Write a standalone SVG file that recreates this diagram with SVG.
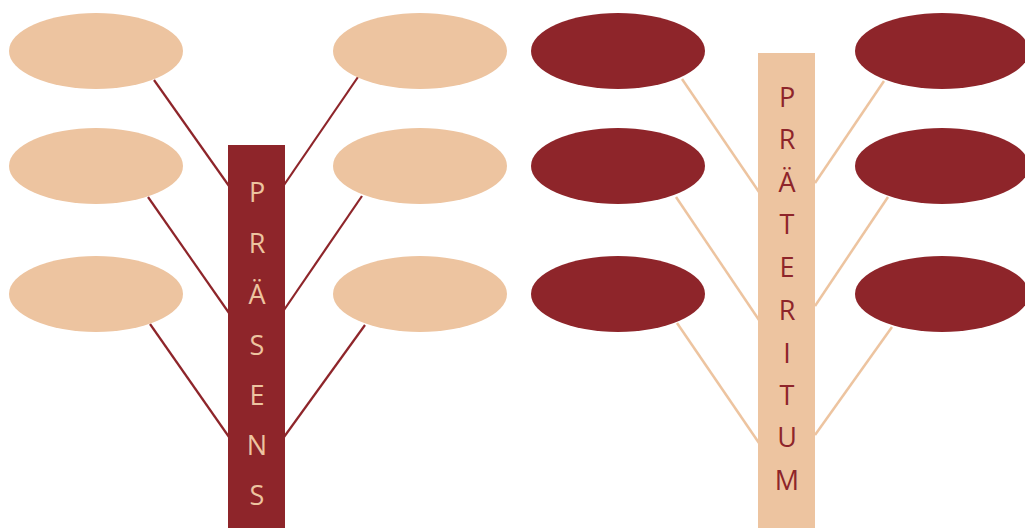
<svg xmlns="http://www.w3.org/2000/svg" width="1025" height="528" viewBox="0 0 1025 528">
<style>
.pe{fill:#EDC4A0}
.dr{fill:#8E252A}
.ld{stroke:#8E252A;stroke-width:2.2;fill:none}
.lp{stroke:#EDC4A0;stroke-width:2.5;fill:none}
.tp{fill:#EDC4A0;font-family:"Open Sans","Liberation Sans",sans-serif;font-size:27px;text-anchor:middle}
.td{fill:#8E252A;font-family:"Open Sans","Liberation Sans",sans-serif;font-size:27px;text-anchor:middle}
</style>
<rect width="1025" height="528" fill="#ffffff"/>
<g id="connectors">
<line class="ld" x1="154" y1="80" x2="229" y2="186"/>
<line class="ld" x1="148" y1="197" x2="229" y2="313"/>
<line class="ld" x1="150" y1="324" x2="229" y2="437"/>
<line class="ld" x1="358" y1="77" x2="284" y2="185"/>
<line class="ld" x1="362" y1="196" x2="284" y2="310"/>
<line class="ld" x1="365" y1="325" x2="284" y2="437"/>
<line class="lp" x1="682" y1="79" x2="759" y2="192"/>
<line class="lp" x1="676" y1="197" x2="759" y2="320"/>
<line class="lp" x1="677" y1="323" x2="759" y2="443"/>
<line class="lp" x1="884" y1="81" x2="815" y2="183"/>
<line class="lp" x1="888" y1="197" x2="815" y2="306"/>
<line class="lp" x1="892" y1="327" x2="815" y2="435"/>
</g>
<g id="l1"><ellipse class="pe" cx="96" cy="51" rx="87" ry="38"/></g>
<g id="l2"><ellipse class="pe" cx="96" cy="166" rx="87" ry="38"/></g>
<g id="l3"><ellipse class="pe" cx="96" cy="294" rx="87" ry="38"/></g>
<g id="l4"><ellipse class="pe" cx="420" cy="51" rx="87" ry="38"/></g>
<g id="l5"><ellipse class="pe" cx="420" cy="166" rx="87" ry="38"/></g>
<g id="l6"><ellipse class="pe" cx="420" cy="294" rx="87" ry="38"/></g>
<g id="r1"><ellipse class="dr" cx="618" cy="51" rx="87" ry="38"/></g>
<g id="r2"><ellipse class="dr" cx="618" cy="166" rx="87" ry="38"/></g>
<g id="r3"><ellipse class="dr" cx="618" cy="294" rx="87" ry="38"/></g>
<g id="r4"><ellipse class="dr" cx="942" cy="51" rx="87" ry="38"/></g>
<g id="r5"><ellipse class="dr" cx="942" cy="166" rx="87" ry="38"/></g>
<g id="r6"><ellipse class="dr" cx="942" cy="294" rx="87" ry="38"/></g>
<g id="praesens">
<rect class="dr" x="228" y="145" width="57" height="383"/>
<text class="tp" x="257" y="202">P</text>
<text class="tp" x="257" y="253">R</text>
<text class="tp" x="257" y="304">Ä</text>
<text class="tp" x="257" y="355">S</text>
<text class="tp" x="257" y="405">E</text>
<text class="tp" x="257" y="455">N</text>
<text class="tp" x="257" y="505">S</text>
</g>
<g id="praeteritum">
<rect class="pe" x="758" y="53" width="57" height="475"/>
<text class="td" x="787" y="107">P</text>
<text class="td" x="787" y="149">R</text>
<text class="td" x="787" y="192">Ä</text>
<text class="td" x="787" y="234">T</text>
<text class="td" x="787" y="277">E</text>
<text class="td" x="787" y="320">R</text>
<text class="td" x="787" y="363">I</text>
<text class="td" x="787" y="405">T</text>
<text class="td" x="787" y="447">U</text>
<text class="td" x="787" y="490">M</text>
</g>
</svg>
